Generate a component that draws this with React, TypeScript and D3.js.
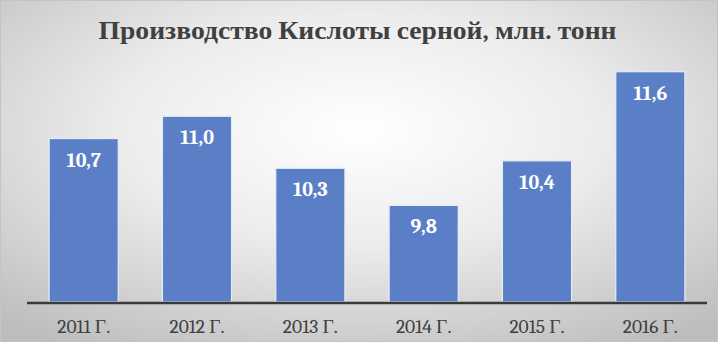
import React from "react";
import * as d3 from "d3";

const categories = ["2011 Г.", "2012 Г.", "2013 Г.", "2014 Г.", "2015 Г.", "2016 Г."];
const values = [10.7, 11.0, 10.3, 9.8, 10.4, 11.6];
const labels = ["10,7", "11,0", "10,3", "9,8", "10,4", "11,6"];
const title = "Производство Кислоты серной, млн. тонн";

const W = 718;
const H = 342;

export default function App() {
  const x = d3.scaleBand<string>().domain(categories).range([27, 707]).paddingInner(0.39).paddingOuter(0.195);
  const y = d3.scaleLinear().domain([8.5, 12]).range([302, 42]);
  const serif = "Cambria, Caladea, 'Liberation Serif', serif";
  return (
    <svg width={W} height={H} style={{ position: "absolute", left: 0, top: 0 }}>
      <defs>
        <radialGradient id="bg" cx="0.5" cy="0.38" r="0.75">
          <stop offset="0" stopColor="#ffffff" />
          <stop offset="0.45" stopColor="#ececec" />
          <stop offset="1" stopColor="#bdbdbd" />
        </radialGradient>
      </defs>
      <rect x={0} y={0} width={W} height={H} fill="url(#bg)" />
      <rect x={0.5} y={0.5} width={W - 1} height={H - 1} fill="none" stroke="#c4c4c4" strokeWidth={1} />
      <text
        x={357.5}
        y={39}
        textAnchor="middle"
        fontFamily={serif}
        fontWeight="bold"
        fontSize={25}
        fill="#404040"
        textLength={518}
        lengthAdjust="spacingAndGlyphs"
      >
        {title}
      </text>
      {categories.map((c, i) => (
        <g key={c}>
          <rect
            x={x(c)}
            y={y(values[i])}
            width={x.bandwidth()}
            height={y.range()[0] - y(values[i])}
            fill="#5a7fc7"
            stroke="#e6ecf7"
            strokeWidth={1.2}
          />
          <text
            x={(x(c) as number) + x.bandwidth() / 2}
            y={y(values[i]) + 28}
            textAnchor="middle"
            fontFamily={serif}
            fontWeight="bold"
            fontSize={20}
            fill="#ffffff"
          >
            {labels[i]}
          </text>
          <text
            x={(x(c) as number) + x.bandwidth() / 2}
            y={333}
            textAnchor="middle"
            fontFamily={serif}
            fontSize={19.5}
            fill="#404040"
          >
            {c}
          </text>
        </g>
      ))}
      <line x1={27} x2={707} y1={303} y2={303} stroke="#3a3a3a" strokeWidth={2.6} />
    </svg>
  );
}
